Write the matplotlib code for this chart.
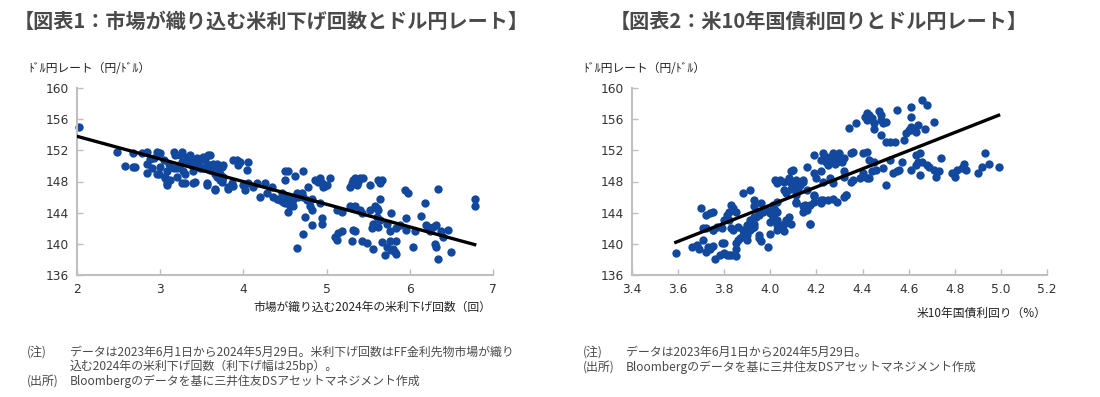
import numpy as np
import matplotlib.pyplot as plt

plt.rcParams['font.family'] = ['Noto Sans CJK JP', 'DejaVu Sans']

# ---------------------------------------------------------
# 図表1: 市場が織り込む米利下げ回数 (x) とドル円 (y)
# ---------------------------------------------------------
cuts_pts = [
    (2.02, 155.0), (2.48, 151.8), (2.58, 150.0), (2.67, 149.8), (2.70, 149.8),
    (2.67, 151.7), (2.78, 151.6), (2.84, 151.8), (2.84, 150.3), (2.84, 149.1),
    (2.88, 150.9), (2.90, 149.7), (2.92, 151.0), (2.96, 151.8), (3.00, 151.6),
    (2.96, 149.0), (2.99, 149.0), (3.00, 149.9), (3.04, 150.8), (3.06, 148.4),
    (3.06, 148.6), (3.08, 147.8), (3.08, 147.5), (3.08, 149.3), (3.10, 150.3),
    (3.12, 149.9), (3.12, 148.2), (3.16, 151.8), (3.18, 151.4), (3.16, 149.7),
    (3.20, 148.6), (3.20, 149.7), (3.24, 151.4), (3.26, 151.8), (3.24, 150.1),
    (3.26, 150.5), (3.26, 147.8), (3.28, 149.3), (3.30, 147.8), (3.30, 149.0),
    (3.32, 150.5), (3.32, 151.0), (3.34, 151.2), (3.36, 151.4), (3.38, 150.8),
    (3.38, 150.1), (3.40, 150.3), (3.40, 149.3), (3.40, 147.8), (3.42, 148.0),
    (3.44, 151.0), (3.46, 150.5), (3.46, 150.3), (3.48, 149.7), (3.50, 149.7),
    (3.52, 151.2), (3.54, 150.8), (3.56, 150.1), (3.56, 147.5), (3.58, 149.9),
    (3.58, 151.4), (3.60, 151.4), (3.60, 150.1), (3.60, 149.5), (3.62, 149.7),
    (3.64, 150.3), (3.64, 150.1), (3.66, 149.0), (3.68, 148.6), (3.68, 150.3),
    (3.70, 150.1), (3.70, 149.7), (3.72, 149.9), (3.72, 149.0), (3.74, 149.9),
    (3.74, 148.2), (3.76, 150.1), (3.56, 147.8), (3.66, 147.1), (3.66, 146.9),
    (3.72, 148.2), (3.74, 148.0), (3.76, 148.6), (3.82, 147.3), (3.82, 147.1),
    (3.86, 147.8), (3.88, 147.4), (3.88, 150.8), (3.92, 150.8), (3.94, 150.1),
    (3.96, 150.5), (4.06, 150.5), (4.04, 149.5), (4.00, 147.5), (4.02, 146.9),
    (4.06, 147.8), (4.12, 147.3), (4.16, 147.8),
    (4.20, 146.0), (4.26, 147.8), (4.28, 146.5), (4.34, 147.3), (4.36, 146.0),
    (4.40, 145.8), (4.44, 145.6), (4.46, 146.5), (4.48, 145.4), (4.50, 145.2),
    (4.52, 146.0), (4.54, 144.1), (4.56, 144.8), (4.58, 145.4), (4.60, 145.8),
    (4.60, 144.8), (4.62, 146.0), (4.64, 146.5), (4.66, 146.0), (4.70, 146.5),
    (4.72, 146.0), (4.76, 145.6), (4.78, 147.3), (4.80, 144.8), (4.82, 144.3),
    (4.86, 148.2), (4.90, 148.0), (4.92, 148.4), (4.94, 147.8), (4.96, 147.3),
    (4.98, 147.4), (5.00, 147.5), (5.04, 148.4), (4.50, 149.3), (4.54, 149.4),
    (4.50, 148.2), (4.62, 148.7), (4.72, 149.4), (4.74, 143.5), (4.82, 142.4),
    (4.94, 143.3), (4.94, 142.6), (4.72, 141.2), (4.64, 139.5), (4.82, 145.8),
    (4.92, 145.2), (5.10, 140.9), (5.12, 140.5), (5.14, 141.4), (5.18, 141.6),
    (5.12, 144.3), (5.18, 144.1), (5.28, 147.3), (5.30, 147.8), (5.32, 148.2),
    (5.34, 148.4), (5.36, 147.5), (5.38, 148.0), (5.40, 148.4), (5.44, 148.4),
    (5.52, 147.5), (5.62, 148.2), (5.64, 147.8), (5.66, 148.2), (5.28, 144.8),
    (5.34, 144.8), (5.40, 144.3), (5.42, 143.9), (5.52, 144.3), (5.58, 144.8),
    (5.60, 144.6), (5.62, 144.3), (5.64, 145.8), (5.60, 143.5), (5.56, 142.6),
    (5.54, 142.0), (5.62, 142.2), (5.64, 143.1), (5.72, 142.6), (5.76, 141.6),
    (5.78, 143.9), (5.84, 142.0), (5.88, 142.4), (5.32, 141.8), (5.34, 141.6),
    (5.30, 140.3), (5.42, 140.3), (5.48, 140.1), (5.56, 139.4), (5.66, 140.2),
    (5.72, 139.6), (5.76, 140.3), (5.78, 139.2), (5.80, 139.4), (5.82, 139.0),
    (5.84, 140.3), (5.70, 138.6), (5.84, 138.7), (5.94, 146.9), (5.98, 146.5),
    (5.96, 143.3), (5.96, 141.8), (6.04, 139.6), (6.06, 141.6), (6.14, 143.6),
    (6.18, 145.3), (6.20, 142.4), (6.22, 142.1), (6.24, 141.6), (6.28, 142.2),
    (6.32, 142.4), (6.34, 147.1), (6.30, 140.0), (6.32, 139.6), (6.34, 138.0),
    (6.38, 141.6), (6.40, 140.9), (6.46, 141.8), (6.50, 138.9), (6.78, 145.8),
    (6.78, 144.9),
]
cuts_trend_x = [2.0, 6.78]
cuts_trend_y = [153.8, 139.9]

# ---------------------------------------------------------
# 図表2: 米10年国債利回り (x) とドル円 (y)
# ---------------------------------------------------------
ust_pts = [
    (3.59, 138.8), (3.66, 139.6), (3.68, 139.9), (3.69, 139.4), (3.71, 140.5),
    (3.72, 139.0), (3.73, 139.6), (3.74, 139.4), (3.75, 139.7), (3.76, 138.1),
    (3.78, 138.6), (3.79, 140.1), (3.80, 140.1), (3.80, 138.8), (3.81, 138.6),
    (3.82, 138.6), (3.83, 138.6), (3.85, 138.4), (3.85, 140.1), (3.86, 140.5),
    (3.85, 139.4), (3.87, 140.7), (3.88, 141.1), (3.89, 140.9), (3.90, 141.1),
    (3.90, 140.5), (3.91, 141.8), (3.92, 142.0), (3.93, 142.2), (3.93, 142.6),
    (3.95, 140.7), (3.95, 141.1), (3.96, 140.3), (3.99, 139.6), (4.00, 141.3),
    (4.03, 141.8), (4.03, 142.4), (4.05, 142.0), (4.06, 142.6), (4.07, 143.1),
    (4.09, 142.6), (4.06, 141.6), (4.08, 143.5), (4.03, 143.1), (4.01, 143.5),
    (4.00, 143.9), (4.01, 144.6), (4.02, 144.3), (4.01, 145.0), (4.03, 145.4),
    (4.03, 144.1), (4.00, 142.8), (3.91, 143.1), (3.93, 143.5), (3.94, 143.5),
    (3.95, 144.1), (3.95, 143.7), (3.97, 144.1), (3.98, 144.3), (3.96, 145.2),
    (3.93, 144.8), (3.93, 145.6), (3.91, 146.9), (3.88, 146.5), (3.83, 145.0),
    (3.84, 144.6), (3.85, 144.1), (3.82, 144.1), (3.80, 143.1), (3.75, 144.1),
    (3.74, 143.9), (3.72, 143.7), (3.70, 144.6), (3.71, 142.0), (3.72, 142.0),
    (3.75, 141.8), (3.75, 141.8), (3.77, 142.2), (3.79, 142.0), (3.83, 142.0),
    (3.84, 141.8), (3.86, 142.2), (3.88, 141.8), (3.90, 142.4), (3.82, 143.1),
    (3.81, 143.7), (4.02, 148.2), (4.03, 147.8), (4.04, 148.2), (4.06, 148.0),
    (4.08, 148.4), (4.09, 147.8), (4.09, 149.3), (4.10, 149.5), (4.11, 148.2),
    (4.11, 147.3), (4.12, 146.9), (4.13, 147.6), (4.14, 148.0), (4.17, 145.0),
    (4.16, 144.3), (4.14, 144.8), (4.17, 142.6), (4.22, 145.6), (4.11, 145.4),
    (4.11, 146.3), (4.11, 145.2), (4.07, 146.5), (4.06, 146.9), (4.09, 147.1),
    (4.34, 154.9), (4.37, 155.5), (4.41, 156.3), (4.42, 156.8), (4.42, 155.9),
    (4.43, 156.5), (4.44, 156.1), (4.45, 155.5), (4.45, 154.8), (4.47, 157.0),
    (4.48, 156.5), (4.48, 155.9), (4.49, 155.5), (4.50, 155.7), (4.48, 154.0),
    (4.50, 153.1), (4.52, 153.1), (4.54, 153.1), (4.55, 157.2), (4.58, 153.3),
    (4.59, 154.2), (4.60, 154.6), (4.61, 155.0), (4.61, 154.6), (4.62, 154.8),
    (4.63, 154.4), (4.64, 155.3), (4.61, 156.3), (4.61, 157.6), (4.66, 158.5),
    (4.68, 157.8), (4.67, 154.8), (4.71, 155.7),
    (4.19, 151.4), (4.22, 150.8), (4.23, 151.6), (4.24, 151.2), (4.24, 150.5),
    (4.25, 150.1), (4.26, 151.2), (4.27, 150.8), (4.27, 151.6), (4.28, 150.3),
    (4.29, 150.5), (4.30, 151.2), (4.30, 151.6), (4.31, 150.5), (4.32, 151.0),
    (4.35, 151.6), (4.36, 151.8), (4.40, 151.6), (4.42, 151.8), (4.43, 150.8),
    (4.45, 150.5), (4.46, 149.5), (4.44, 149.3), (4.40, 149.1), (4.39, 148.4),
    (4.42, 148.4), (4.43, 148.4), (4.49, 149.7), (4.50, 147.6), (4.52, 150.8),
    (4.53, 149.1), (4.55, 149.3), (4.56, 149.5), (4.57, 150.5), (4.61, 149.5),
    (4.63, 150.1), (4.63, 151.4), (4.65, 151.6), (4.64, 150.5), (4.65, 148.8),
    (4.66, 150.5), (4.68, 150.1), (4.69, 149.9), (4.71, 149.5), (4.72, 148.6),
    (4.74, 151.0), (4.73, 149.3), (4.79, 149.1), (4.80, 148.6), (4.81, 149.5),
    (4.83, 149.7), (4.84, 150.3), (4.85, 149.5), (4.90, 149.1), (4.92, 149.9),
    (4.93, 151.6), (4.95, 150.3), (4.99, 149.8),
    (4.16, 149.9), (4.19, 149.1), (4.20, 148.4), (4.22, 149.3), (4.23, 148.0),
    (4.26, 148.4), (4.27, 147.8), (4.32, 149.3), (4.33, 146.3), (4.32, 148.6),
    (4.35, 148.0), (4.36, 148.2), (4.16, 146.9), (4.14, 148.2), (4.19, 146.3),
    (4.15, 145.0), (4.14, 144.1), (4.17, 142.6), (4.19, 145.4), (4.22, 145.2),
    (4.23, 145.6), (4.25, 145.6), (4.27, 145.8), (4.32, 146.0), (4.33, 146.3),
    (4.19, 146.1), (4.29, 145.4),
]
ust_trend_x = [3.59, 4.99]
ust_trend_y = [140.2, 156.5]

titles = ["【図表1：市場が織り込む米利下げ回数とドル円レート】",
          "【図表2：米10年国債利回りとドル円レート】"]
ylabel = "ﾄﾞﾙ円レート（円/ﾄﾞﾙ）"
xlabels = ["市場が織り込む2024年の米利下げ回数（回）", "米10年国債利回り（%）"]
yticks = [136, 140, 144, 148, 152, 156, 160]
xticks1 = [2, 3, 4, 5, 6, 7]
xticks2 = [3.4, 3.6, 3.8, 4.0, 4.2, 4.4, 4.6, 4.8, 5.0, 5.2]

dot_color = "#12489e"
txt_color = "#4a4a4a"
axis_color = "#bfbfbf"

W, H = 1100, 397
fig = plt.figure(figsize=(W / 100, H / 100), dpi=100)


def px(x, y):
    return x / W, 1 - y / H


def setup(ax, xticks, xlim, fmt):
    ax.set_xlim(*xlim)
    ax.set_ylim(136, 160)
    ax.set_xticks(xticks)
    ax.set_xticklabels([fmt.format(v) for v in xticks])
    ax.set_yticks(yticks)
    for s in ["top", "right"]:
        ax.spines[s].set_visible(False)
    for s in ["left", "bottom"]:
        ax.spines[s].set_color(axis_color)
        ax.spines[s].set_linewidth(1.5)
    ax.tick_params(direction="in", length=4, width=1, color=axis_color,
                   labelsize=8.8, labelcolor="#333333", pad=6)
    for lab in ax.get_xticklabels() + ax.get_yticklabels():
        lab.set_family("DejaVu Sans")


# 図表1
ax1 = fig.add_axes([77 / W, 1 - 275 / H, 416 / W, 187 / H])
c = np.array(cuts_pts)
ax1.scatter(c[:, 0], c[:, 1], s=36, color=dot_color, zorder=2, clip_on=False,
            linewidths=0)
ax1.plot(cuts_trend_x, cuts_trend_y, color="black", lw=2.4, zorder=3)
setup(ax1, xticks1, (2, 7), "{:d}")

# 図表2
ax2 = fig.add_axes([632 / W, 1 - 275 / H, 415 / W, 187 / H])
u = np.array(ust_pts)
ax2.scatter(u[:, 0], u[:, 1], s=36, color=dot_color, zorder=2, clip_on=False,
            linewidths=0)
ax2.plot(ust_trend_x, ust_trend_y, color="black", lw=2.4, zorder=3)
setup(ax2, xticks2, (3.4, 5.2), "{:.1f}")

# タイトル・軸ラベル
fig.text(*px(14, 21), titles[0], fontsize=14.5, fontweight="bold",
         color=txt_color, va="center", ha="left")
fig.text(*px(610, 21), titles[1], fontsize=14.5, fontweight="bold",
         color=txt_color, va="center", ha="left")
fig.text(*px(28, 68), ylabel, fontsize=8.5, color="#222222", va="center")
fig.text(*px(583, 68), ylabel, fontsize=8.5, color="#222222", va="center")
fig.text(*px(491, 307), xlabels[0], fontsize=8.5, color="#222222",
         va="center", ha="right")
fig.text(*px(1046, 313), xlabels[1], fontsize=8.5, color="#222222",
         va="center", ha="right")

# 注・出所
note_fs = 8.6
fig.text(*px(27, 352), "(注)", fontsize=note_fs, color=txt_color, va="center")
fig.text(*px(70, 352), "データは2023年6月1日から2024年5月29日。米利下げ回数はFF金利先物市場が織り",
         fontsize=note_fs, color=txt_color, va="center")
fig.text(*px(70, 366), "込む2024年の米利下げ回数（利下げ幅は25bp）。",
         fontsize=note_fs, color=txt_color, va="center")
fig.text(*px(27, 381), "(出所)", fontsize=note_fs, color=txt_color, va="center")
fig.text(*px(70, 381), "Bloombergのデータを基に三井住友DSアセットマネジメント作成",
         fontsize=note_fs, color=txt_color, va="center")

fig.text(*px(583, 352), "(注)", fontsize=note_fs, color=txt_color, va="center")
fig.text(*px(626, 352), "データは2023年6月1日から2024年5月29日。",
         fontsize=note_fs, color=txt_color, va="center")
fig.text(*px(583, 367), "(出所)", fontsize=note_fs, color=txt_color, va="center")
fig.text(*px(626, 367), "Bloombergのデータを基に三井住友DSアセットマネジメント作成",
         fontsize=note_fs, color=txt_color, va="center")

fig.savefig("out.png", dpi=100)
